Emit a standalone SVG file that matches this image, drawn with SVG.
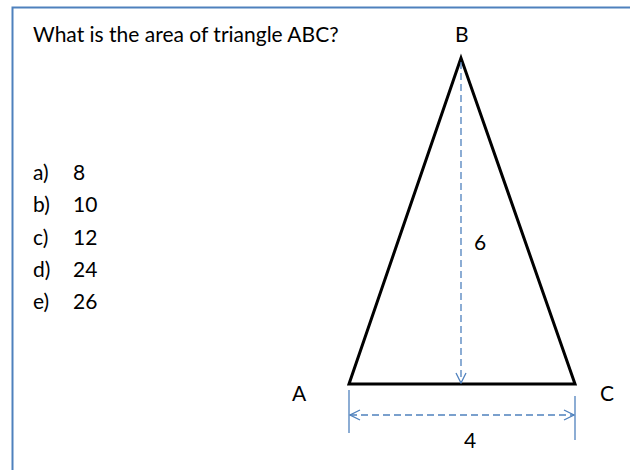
<svg xmlns="http://www.w3.org/2000/svg" width="630" height="470" viewBox="0 0 630 470">
<defs>
<style>
text{font-family:Lato,"Open Sans","Liberation Sans",sans-serif;font-size:21px;fill:#000}
.dim{stroke:#4f81bd;stroke-width:1.3;fill:none}
.dash{stroke-dasharray:7 4}
</style>
<marker id="arr" viewBox="0 0 12 12" refX="11" refY="6" markerWidth="12" markerHeight="12" markerUnits="userSpaceOnUse" orient="auto-start-reverse">
<path d="M1,1 L11,6 L1,11" fill="none" stroke="#4f81bd" stroke-width="1.3"/>
</marker>
</defs>
<rect x="0" y="0" width="630" height="470" fill="#fff"/>
<rect x="12.5" y="7.5" width="660" height="500" fill="none" stroke="#4f81bd" stroke-width="2"/>
<g id="question"><text x="33" y="42">What is the area of triangle ABC?</text></g>
<g id="options">
<text x="33" y="180">a)</text><text x="73" y="180">8</text>
<text x="33" y="212">b)</text><text x="73" y="212">10</text>
<text x="33" y="245">c)</text><text x="73" y="245">12</text>
<text x="33" y="277">d)</text><text x="73" y="277">24</text>
<text x="33" y="309">e)</text><text x="73" y="309">26</text>
</g>
<g id="triangle"><polygon points="461,58 349,384 575,384" fill="none" stroke="#000" stroke-width="3" stroke-linejoin="miter"/></g>
<g id="labels">
<text x="455" y="42">B</text>
<text x="292" y="401">A</text>
<text x="600" y="401">C</text>
<text x="474" y="250">6</text>
<text x="464" y="448">4</text>
</g>
<g id="connectors">
<line class="dim dash" x1="461" y1="62" x2="461" y2="383" marker-end="url(#arr)"/>
<line class="dim" x1="349" y1="390" x2="349" y2="433"/>
<line class="dim" x1="575" y1="396" x2="575" y2="440"/>
<line class="dim dash" x1="350" y1="415" x2="574" y2="415" marker-start="url(#arr)" marker-end="url(#arr)"/>
</g>
</svg>
